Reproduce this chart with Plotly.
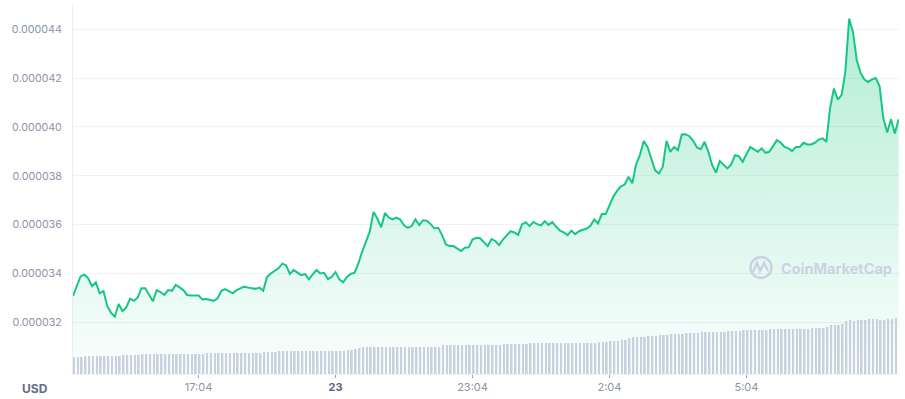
import plotly.graph_objects as go

# ---------------- data ----------------
# price in micro-USD (1e-6 USD), sampled every 5 minutes starting 14:19 (None = unread sample)
price_micro = [
    33.08, None, 33.89, 33.95, 33.80, 33.48, 33.64, 33.19, 33.28, 32.67,
    32.39, 32.23, 32.75, 32.46, 32.61, 32.97, 32.88, 33.01, 33.40, 33.40,
    33.12, 32.86, 33.32, 33.24, 33.12, 33.32, 33.29, 33.53, 33.43, 33.32,
    33.12, 33.10, None, 33.10, 32.94, 32.95, None, 32.88, 32.98, 33.29,
    33.36, 33.29, 33.19, 33.32, None, 33.46, 33.42, None, 33.37, 33.42,
    33.29, 33.86, 34.00, None, 34.21, 34.40, 34.34, 33.98, 34.14, 34.05,
    33.93, 33.98, 33.76, 33.96, 34.14, 34.00, 34.03, 33.77, 33.86, 34.06,
    33.76, 33.64, 33.86, 33.98, 34.03, 34.41, 34.89, None, 35.71, 36.52,
    36.25, 35.89, 36.48, 36.29, 36.21, 36.29, 36.21, 35.97, 35.87, 35.94,
    36.21, 35.98, 36.18, 36.16, 36.02, 35.84, 35.87, 35.57, 35.19, 35.12,
    35.12, 35.03, 34.92, 35.05, 35.07, 35.39, 35.46, 35.44, 35.27, 35.12,
    35.41, 35.33, 35.16, 35.39, None, 35.73, 35.68, 35.58, 36.01, 36.10,
    35.94, 36.11, 36.02, 35.97, 36.14, 35.99, 36.10, 35.91, 35.75, 35.68,
    35.57, 35.75, 35.61, 35.73, 35.78, 35.84, 35.95, 36.21, 36.05, 36.43,
    36.43, 36.76, 37.14, 37.38, 37.57, 37.64, 37.96, 37.69, 38.47, 38.84,
    39.42, 39.18, 38.67, 38.22, 38.09, 38.36, 39.43, 38.98, 39.18, 39.05,
    39.69, 39.70, 39.62, 39.43, 39.16, 39.09, 39.39, 38.98, 38.43, 38.13,
    38.60, 38.43, 38.30, 38.46, 38.84, 38.80, 38.57, 38.88, 39.18, 39.08,
    38.98, 39.12, 38.94, 38.98, 39.25, 39.46, 39.36, 39.18, 39.12, 39.01,
    39.18, 39.18, 39.35, 39.28, 39.28, 39.35, 39.48, 39.53, 39.39, 40.79,
    41.57, 41.12, 41.30, 42.25, 44.43, 43.89, 42.73, 42.21, 41.94, 41.84,
    41.94, 42.00, 41.66, 40.34, 39.77, 40.31, 39.73, 40.31,
]

# volume (arbitrary units), one bar per 5-minute sample
volume = [
    1.7, 1.7, 1.7, 1.8, 1.8, 1.8, 1.8, 1.8, 1.8, 1.8,
    1.8, 1.8, 1.8, 1.9, 1.9, 1.9, 1.9, 1.9, 2.0, 2.0,
    2.0, 2.0, 2.0, 2.0, 2.0, 2.0, 2.0, 2.0, 2.0, 2.0,
    2.0, 2.0, 2.0, 2.0, 2.0, 2.1, 2.1, 2.1, 2.1, 2.1,
    2.1, 2.1, 2.1, 2.1, 2.1, 2.1, 2.1, 2.1, 2.1, 2.1,
    2.2, 2.2, 2.2, 2.2, 2.3, 2.3, 2.3, 2.3, 2.3, 2.3,
    2.3, 2.3, 2.3, 2.3, 2.3, 2.3, 2.3, 2.3, 2.3, 2.3,
    2.3, 2.3, 2.4, 2.4, 2.5, 2.6, 2.7, 2.7, 2.7, 2.7,
    2.7, 2.7, 2.7, 2.7, 2.7, 2.7, 2.7, 2.7, 2.7, 2.7,
    2.7, 2.7, 2.7, 2.7, 2.7, 2.7, 2.7, 2.9, 2.9, 2.9,
    2.9, 2.9, 2.9, 2.9, 2.9, 2.9, 2.9, 2.9, 2.9, 2.9,
    2.9, 2.9, 2.9, 3.0, 3.0, 3.0, 3.0, 3.0, 3.0, 3.0,
    3.1, 3.1, 3.1, 3.1, 3.1, 3.1, 3.1, 3.1, 3.1, 3.1,
    3.1, 3.1, 3.1, 3.1, 3.1, 3.1, 3.1, 3.1, 3.2, 3.2,
    3.2, 3.3, 3.3, 3.3, 3.4, 3.4, 3.6, 3.7, 3.7, 3.7,
    3.7, 3.8, 3.8, 3.8, 3.9, 3.9, 3.9, 4.0, 4.0, 4.0,
    4.0, 4.1, 4.1, 4.1, 4.1, 4.2, 4.2, 4.2, 4.2, 4.2,
    4.2, 4.2, 4.3, 4.3, 4.3, 4.3, 4.4, 4.4, 4.4, 4.4,
    4.4, 4.4, 4.4, 4.5, 4.5, 4.5, 4.5, 4.5, 4.5, 4.5,
    4.5, 4.5, 4.5, 4.5, 4.6, 4.6, 4.6, 4.6, 4.7, 4.9,
    4.9, 4.9, 5.0, 5.3, 5.4, 5.3, 5.4, 5.4, 5.4, 5.5,
    5.5, 5.5, 5.4, 5.4, 5.5, 5.5, 5.6,
]

step_minutes = 5
price_minutes = [i * step_minutes for i in range(len(price_micro))]
volume_minutes = [i * step_minutes for i in range(len(volume))]
price = [None if v is None else v * 1e-6 for v in price_micro]

tick_minutes = [165, 345, 525, 705, 885]
tick_labels = ["17:04", "<b><span style='color:#58667e'>23</span></b>", "23:04", "2:04", "5:04"]
y_ticks = [32e-6, 34e-6, 36e-6, 38e-6, 40e-6, 42e-6, 44e-6]

# ---------------- figure ----------------
GREEN = "#16c784"
fig = go.Figure()

fig.add_trace(go.Scatter(
    x=price_minutes, y=price, mode="lines", connectgaps=True,
    line=dict(color=GREEN, width=2, shape="linear"),
    fill="tozeroy",
    fillgradient=dict(
        type="vertical",
        colorscale=[[0, "rgba(22,199,132,0.02)"], [1, "rgba(22,199,132,0.34)"]],
        start=29.885e-6, stop=44.99e-6,
    ),
    hoverinfo="skip", showlegend=False, yaxis="y",
))

fig.add_trace(go.Bar(
    x=volume_minutes, y=volume, yaxis="y2",
    marker=dict(color="#c8d1e0", line=dict(width=0)),
    width=2.3, offset=0.3,
    hoverinfo="skip", showlegend=False,
))

fig.update_layout(
    width=905, height=399,
    margin=dict(l=73, r=6, t=5, b=25),
    paper_bgcolor="white", plot_bgcolor="white",
    font=dict(family="Inter, 'Noto Sans', sans-serif", size=11, color="#8a94a6"),
    xaxis=dict(
        range=[0, 1085.5], showgrid=False, zeroline=False,
        tickmode="array", tickvals=tick_minutes, ticktext=tick_labels,
        ticks="outside", ticklen=3, tickcolor="#9aa3b3", tickwidth=1,
        showline=True, linecolor="#eff2f5", linewidth=1,
        tickfont=dict(size=11, color="#8a94a6"),
    ),
    yaxis=dict(
        range=[29.885e-6, 44.99e-6], showgrid=True, gridcolor="#eff2f5", gridwidth=1,
        zeroline=False, tickmode="array", tickvals=y_ticks, tickformat=".6f",
        showline=True, linecolor="#e9ecf1", linewidth=1, ticks="",
        ticklabelstandoff=8,
        tickfont=dict(size=10.7, color="#8a94a6"),
    ),
    yaxis2=dict(
        overlaying="y", range=[0, 36.9], showgrid=False, zeroline=False,
        showticklabels=False, showline=False,
    ),
    bargap=0.5,
)

# "USD" label
fig.add_annotation(
    text="<b>USD</b>", xref="paper", yref="paper",
    x=-0.046, y=-0.038, xanchor="center", yanchor="middle", showarrow=False,
    font=dict(size=12, color="#616e85", family="Inter, sans-serif"),
)

# CoinMarketCap watermark
wm_color = "#cdd2e3"
fig.add_annotation(
    text="<b>CoinMarketCap</b>", xref="paper", yref="paper",
    x=(779 - 73) / 826, y=(374 - 268) / 369, xanchor="left", yanchor="middle",
    showarrow=False, font=dict(size=14.5, color=wm_color, family="Inter, sans-serif"),
)

def px(X):
    return (X - 73) / 826

def py(Y):
    return (374 - Y) / 369

cx, cy, r = 761, 267.5, 10.5
fig.add_shape(type="circle", xref="paper", yref="paper",
              x0=px(cx - r), x1=px(cx + r), y0=py(cy + r), y1=py(cy - r),
              line=dict(color=wm_color, width=2.5))
fig.add_shape(type="path", xref="paper", yref="paper",
              path=f"M {px(753)} {py(272)} L {px(757)} {py(263)} L {px(760)} {py(271)} "
                   f"L {px(764)} {py(263)} L {px(768)} {py(271)}",
              line=dict(color=wm_color, width=2.5))

fig.write_html("out.html", config={"displayModeBar": False},
               post_script="document.body.style.margin='0';")
